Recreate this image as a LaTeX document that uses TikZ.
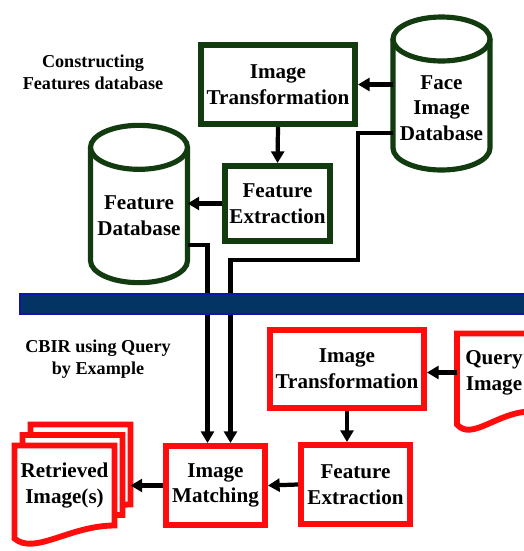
\documentclass[tikz,border=0pt]{standalone}
\usepackage{fontspec}
\setmainfont{Liberation Serif}
\usetikzlibrary{arrows.meta,calc}

\definecolor{dkgreen}{RGB}{18,60,16}
\definecolor{boxred}{RGB}{255,12,12}
\definecolor{bandnavy}{RGB}{4,52,100}
\definecolor{bandblue}{RGB}{16,20,170}

\newcommand{\boxfont}{\fontsize{18}{22}\selectfont}
\newcommand{\capfont}{\fontsize{15.5}{19}\selectfont}

\pgfdeclarelayer{bg}
\pgfsetlayers{bg,main}

\tikzset{
  gbox/.style={rectangle, draw=dkgreen, line width=5pt, fill=white, font=\bfseries\boxfont, align=center, inner sep=0pt},
  rbox/.style={rectangle, draw=boxred, line width=5pt, fill=white, font=\bfseries\boxfont, align=center, inner sep=0pt},
  body/.style={rectangle, inner sep=0pt, outer sep=0pt, font=\bfseries\boxfont, align=center},
  dbline/.style={draw=dkgreen, line width=4.4pt, fill=white},
  docline/.style={draw=boxred, line width=5pt, fill=white},
  caption/.style={font=\bfseries\capfont, align=center},
  arr/.style={-{Triangle[length=10pt,width=11pt]}, line width=3.6pt, black},
}

% 円柱 (データベース)
\newcommand{\cyl}[1]{%
  \begin{pgfonlayer}{bg}
  \draw[dbline] ([shift={(0,22)}]#1.north west) -- ([shift={(0,22)}]#1.south west)
     arc[start angle=180, end angle=360, x radius=1.455cm, y radius=0.66cm]
     -- ([shift={(0,22)}]#1.north east);
  \draw[dbline] ([shift={(0,22)}]#1.north) ellipse [x radius=1.455cm, y radius=0.66cm];
  \end{pgfonlayer}}

% 書類 (下辺が波)
\newcommand{\doc}[1]{%
  \begin{pgfonlayer}{bg}
  \draw[docline] (#1.north west) -- (#1.north east) -- (#1.south east)
     .. controls ($(#1.south west)!0.55!(#1.south east)$) and ($(#1.south west)!0.2!(#1.south east)+(0,-30)$)
     .. ([shift={(0,-13)}]#1.south west) -- cycle;
  \end{pgfonlayer}}

\begin{document}
\begin{tikzpicture}[x=0.03cm, y=0.03cm]
    \useasboundingbox (0,0) rectangle (523,-551);

    % 見出し
    \node[caption] (capbuild) at (93,-72) {Constructing\\Features database};
    \node[caption] (capquery) at (98,-359) {CBIR using Query\\by Example};

    % 特徴データベースの構築 (上段)
    \node[gbox, minimum width=4.62cm, minimum height=2.37cm] (gtrans) at (278,-84.5) {Image\\Transformation};
    \node[gbox, minimum width=3.15cm, minimum height=2.25cm] (gfeat) at (277.5,-203.5) {Feature\\Extraction};
    \node[body, minimum width=2.91cm, minimum height=3.27cm] (facedb) at (441.5,-115.5) {};
    \cyl{facedb}
    \node[body] (facedbtext) at (441.5,-108) {Face\\Image\\Database};
    \node[body, minimum width=2.91cm, minimum height=3.4cm] (featdb) at (139,-226) {};
    \cyl{featdb}
    \node[body] (featdbtext) at (139,-216) {Feature\\Database};

    % 問い合わせ (下段)
    \node[rbox, minimum width=4.62cm, minimum height=2.34cm] (rtrans) at (347,-369) {Image\\Transformation};
    \node[rbox, minimum width=3.27cm, minimum height=2.37cm] (rfeat) at (355.5,-484.5) {Feature\\Extraction};
    \node[rbox, minimum width=2.97cm, minimum height=2.37cm] (match) at (215.5,-485.5) {Image\\Matching};
    \node[body, minimum width=2.22cm, minimum height=2.34cm] (query) at (494,-372.5) {Query\\Image};
    \doc{query}
    \node[body, minimum width=3cm, minimum height=2.4cm] (retr3) at (80.5,-464.5) {};
    \doc{retr3}
    \node[body, minimum width=3cm, minimum height=2.4cm] (retr2) at (72.5,-475) {};
    \doc{retr2}
    \node[body, minimum width=3cm, minimum height=2.4cm] (retr1) at (64.5,-485.5) {Retrieved\\Image(s)};
    \doc{retr1}

    % 矢印
    \coordinate (bend) at ($(gtrans.east)+(0,-175.5)$);
    \draw[arr] (gtrans.east -| facedb.west) -- (gtrans.east);
    \draw[arr] (gtrans.south) -- (gfeat.north);
    \draw[arr] (gfeat.west) -- (gfeat.west -| featdb.east);
    \draw[arr] ([shift={(0,38)}]featdb.south east) -| ([shift={(-8,0)}]match.north);
    \draw[arr] ([shift={(0,-72)}]facedb.north west) -| (bend) -| ([shift={(15,0)}]match.north);
    \draw[arr] (query.west) -- (query.west -| rtrans.east);
    \draw[arr] (rtrans.south) -- (rtrans.south |- rfeat.north);
    \draw[arr] (rfeat.west) -- (match.east);
    \draw[arr] (match.west) -- (match.west -| retr3.east);

    % 区切りの帯
    \draw[draw=bandblue, line width=1.6pt, fill=bandnavy] (20,-294) rectangle (540,-314);
\end{tikzpicture}
\end{document}
